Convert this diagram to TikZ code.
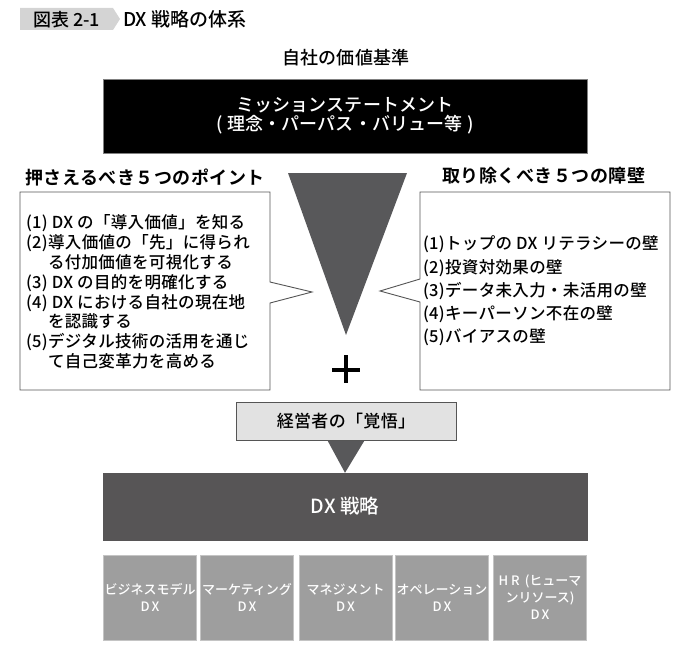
\documentclass[tikz,border=0pt]{standalone}
\usepackage{fontspec}
\setmainfont{Noto Sans CJK JP}[UprightFont=* Medium, BoldFont=* Bold]
\definecolor{tagc}{HTML}{D4D4D4}
\definecolor{tric}{HTML}{58585A}
\definecolor{dxsc}{HTML}{575556}
\definecolor{subc}{HTML}{9E9E9E}
\definecolor{subb}{HTML}{C4C4C4}
\definecolor{kakc}{HTML}{E2E2E2}
\definecolor{linec}{HTML}{555555}
\tikzset{
  plain/.style={inner sep=0pt, outer sep=0pt},
  heading/.style={plain, font=\fontsize{18}{20}\selectfont\bfseries\addfontfeatures{LetterSpace=3}},
  callout/.style={draw=linec, fill=white, line width=0.9pt, line join=miter},
  listtext/.style={plain, anchor=north west, align=left},
  subbox/.style={draw=subb, fill=subc, line width=0.8pt, minimum width=93pt, minimum height=85pt, inner sep=0pt, text=white, align=center, font=\fontsize{13}{17}\selectfont},
}
\begin{document}
\begin{tikzpicture}[x=1pt,y=-1pt]
\useasboundingbox (0,0) rectangle (692,658);
% header tag
\fill[tagc] (20,8) -- (113,8) -- (120,19) -- (113,30) -- (20,30) -- cycle;
\node[plain, anchor=west, font=\fontsize{18}{20}\selectfont] (tagtext) at (33,19.5) {図表 2-1};
\node[plain, anchor=west, font=\fontsize{19}{21}\selectfont] (title) at (123,19.5) {DX 戦略の体系};
% value
\node[heading, font=\fontsize{18}{20}\selectfont\addfontfeatures{LetterSpace=1}] (value) at (346,58) {自社の価値基準};
% mission
\node[fill=black, draw=gray, line width=0.8pt, minimum width=484pt, minimum height=74pt, inner sep=0pt, text=white, align=center,
  font=\fontsize{18}{19}\selectfont\addfontfeatures{LetterSpace=1}] (mission) at (345,116) {ミッションステートメント\\( 理念・パーパス・バリュー等 )};
% headings
\node[heading, anchor=west] (lefthead) at (25,178) {押さえるべき５つのポイント};
\node[heading, anchor=west] (righthead) at (442,176) {取り除くべき５つの障壁};
% funnel
\coordinate (ftl) at (288,173);
\coordinate (ftr) at (407,173);
\coordinate (ftip) at (346,335);
\fill[tric] (ftl) -- (ftr) -- (ftip) -- cycle;
% left callout
\coordinate (ltip) at (312,292);
\draw[callout] (20,192) -- (270,192) -- (270,282) -- (ltip) -- (270,303) -- (270,390) -- (20,390) -- cycle;
\node[listtext, font=\fontsize{16.5}{19.8}\selectfont\addfontfeatures{LetterSpace=2}] (lefttext) at (26,215) {%
(1) DX の「導入価値」を知る\\
(2)導入価値の「先」に得られ\\
\hspace*{22pt}る付加価値を可視化する\\
(3) DX の目的を明確化する\\
(4) DX における自社の現在地\\
\hspace*{22pt}を認識する\\
(5)デジタル技術の活用を通じ\\
\hspace*{22pt}て自己変革力を高める};
% right callout
\coordinate (rtip) at (380,291);
\draw[callout] (420,192) -- (670,192) -- (670,390) -- (420,390) -- (420,302) -- (rtip) -- (420,279) -- cycle;
\node[listtext, font=\fontsize{16.5}{23.2}\selectfont\addfontfeatures{LetterSpace=2}] (righttext) at (423,236) {%
(1)トップの DX リテラシーの壁\\
(2)投資対効果の壁\\
(3)データ未入力・未活用の壁\\
(4)キーパーソン不在の壁\\
(5)バイアスの壁};
% plus
\coordinate (plusc) at (346,370);
\draw[line width=3.5pt] ([xshift=-14pt]plusc) -- ([xshift=14pt]plusc);
\draw[line width=3.5pt] ([yshift=15pt]plusc) -- ([yshift=-13pt]plusc);
% kakugo
\node[draw=linec, fill=kakc, line width=1pt, minimum width=220pt, minimum height=38pt, inner sep=0pt,
  font=\fontsize{17}{18}\selectfont\addfontfeatures{LetterSpace=2}] (kakugo) at (346,421) {経営者の「覚悟」};
% dx strategy
\node[fill=dxsc, draw=dxsc, minimum width=484pt, minimum height=67pt, inner sep=0pt, text=white,
  font=\fontsize{19.5}{21}\selectfont] (dxs) at (345,506.5) {DX 戦略};
\fill[tric] ([xshift=-18.5pt]kakugo.south) -- ([xshift=18.5pt]kakugo.south) -- (dxs.north) -- cycle;
% sub boxes
\node[subbox] (s1) at (150,597.5) {ビジネスモデル\\D\hspace{2pt}X};
\node[subbox] (s2) at (247,597.5) {マーケティング\\D\hspace{2pt}X};
\node[subbox] (s3) at (345.5,597.5) {マネジメント\\D\hspace{2pt}X};
\node[subbox] (s4) at (442,597.5) {オペレーション\\D\hspace{2pt}X};
\node[subbox] (s5) at (540,597.5) {H\hspace{3pt}R\hspace{5pt}(ヒューマ\\ンリソース)\\D\hspace{2pt}X};
\end{tikzpicture}
\end{document}
